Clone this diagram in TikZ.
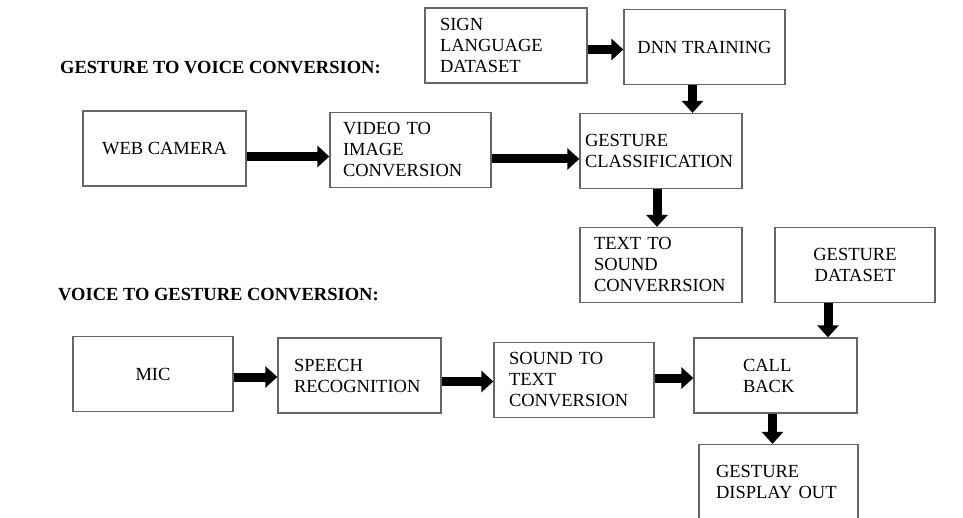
\documentclass[tikz,border=0pt]{standalone}
\usepackage{fontspec}
\setmainfont{Liberation Serif}
\usetikzlibrary{arrows.meta,calc}
\definecolor{BoxGray}{rgb}{0.4,0.4,0.4}
\hyphenpenalty=10000

\begin{document}
\begin{tikzpicture}[x=1pt,y=-1pt,
  box/.style={draw=BoxGray,line width=1.3pt,rectangle,minimum height=75pt,inner ysep=0pt,
    font=\fontsize{18.5}{21}\selectfont},
  lbox/.style 2 args={box,align=left,inner xsep=#1,text width=#2},
  cbox/.style={box,align=center,minimum width=#1},
  arr/.style={line width=9pt,-{Triangle[length=12pt,width=21pt]}},
  head/.style={anchor=west,inner sep=0pt,font=\fontsize{18.5}{21}\selectfont\bfseries}]
  \useasboundingbox (0,0) rectangle (963,518);
  \clip (0,0) rectangle (963,518);

  \node (h1) [head] at (60,68) {GESTURE TO VOICE CONVERSION:};
  \node (h2) [head] at (58,295) {VOICE TO GESTURE CONVERSION:};

  % gesture to voice
  \node (sld) [lbox={15pt}{132pt}] at (506,45.5) {SIGN\\LANGUAGE\\DATASET};
  \node (dnn) [cbox=161pt] at (704.5,47) {DNN TRAINING};
  \node (cam) [cbox=163pt] at (164.5,148.5) {WEB CAMERA};
  \node (vid) [lbox={13pt}{135pt}] at (410.5,150) {VIDEO TO\\IMAGE\\CONVERSION};
  \node (cls) [lbox={5pt}{152pt}] at (661,151) {GESTURE\\CLASSIFICATION};
  \node (tts) [lbox={14pt}{134pt}] at (661,265) {TEXT TO\\SOUND\\CONVERRSION};

  % voice to gesture
  \node (gds) [cbox=160pt] at (855,265) {GESTURE\\DATASET};
  \node (mic) [cbox=160pt] at (153,374) {MIC};
  \node (spr) [lbox={16pt}{131pt}] at (359.5,375.5) {SPEECH\\RECOGNITION};
  \node (stt) [lbox={15pt}{130pt}] at (574,380) {SOUND TO\\TEXT\\CONVERSION};
  \node (cb) [lbox={49pt}{65pt}] at (775.5,375.5) {CALL\\BACK};
  \node (gdo) [lbox={17pt}{125pt}] at (778.5,482) {GESTURE\\DISPLAY OUT};

  \draw[arr] ($(sld.east)+(0,4)$) -- ($(sld.east -| dnn.west)+(0,4)$);
  \draw[arr] ($(dnn.south)+(-12,0)$) -- ($(dnn.south |- cls.north)+(-12,0)$);
  \draw[arr] ($(cam.east)+(0,8)$) -- ($(cam.east -| vid.west)+(0,8)$);
  \draw[arr] ($(vid.east)+(0,9)$) -- ($(vid.east -| cls.west)+(0,9)$);
  \draw[arr] ($(cls.south)+(-4,0)$) -- ($(cls.south |- tts.north)+(-4,0)$);

  \draw[arr] ($(gds.south)+(-27,0)$) -- ($(gds.south |- cb.north)+(-27,0)$);
  \draw[arr] ($(mic.east)+(0,3)$) -- ($(mic.east -| spr.west)+(0,3)$);
  \draw[arr] ($(spr.east)+(0,6)$) -- ($(spr.east -| stt.west)+(0,6)$);
  \draw[arr] ($(stt.east)+(0,-2)$) -- ($(stt.east -| cb.west)+(0,-2)$);
  \draw[arr] ($(cb.south)+(-3,0)$) -- ($(cb.south |- gdo.north)+(-3,0)$);
\end{tikzpicture}
\end{document}
